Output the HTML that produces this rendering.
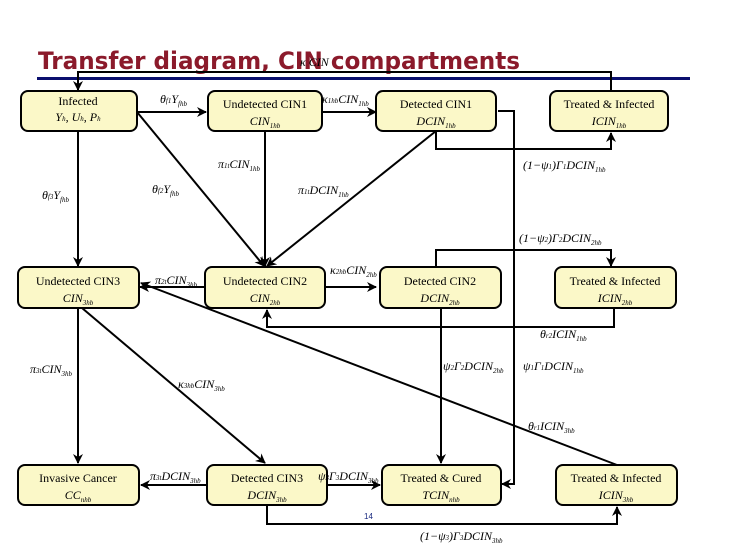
<!DOCTYPE html>
<html><head><meta charset="utf-8"><style>
html,body{margin:0;padding:0;background:#fff;}
svg{display:block;}
.t{font-family:"Liberation Serif",serif;font-size:12px;fill:#000;}
.m{font-family:"Liberation Serif",serif;font-style:italic;font-size:12px;fill:#000;}
.s{font-size:7px;}
</style></head><body>
<svg width="730" height="547" viewBox="0 0 730 547" xmlns="http://www.w3.org/2000/svg">
<defs>
<marker id="a" markerWidth="10" markerHeight="10" refX="9" refY="5" orient="auto" markerUnits="userSpaceOnUse">
<path d="M0,0 L10,5 L0,10 L3,5 Z" fill="#000"/></marker>
</defs>
<text x="38" y="69" font-family="'DejaVu Sans','Liberation Sans',sans-serif" font-weight="bold" font-size="24" fill="#8b1a2b" textLength="482" lengthAdjust="spacingAndGlyphs">Transfer diagram, CIN compartments</text>
<rect x="37" y="77" width="653" height="3" fill="#0a0f6e"/>

<g stroke="#000" stroke-width="2" fill="none">
<polyline points="611,91 611,72 78,72 78,90" marker-end="url(#a)"/>
<line x1="137" y1="112" x2="206" y2="112" marker-end="url(#a)"/>
<line x1="137" y1="112" x2="264" y2="266" marker-end="url(#a)"/>
<line x1="78" y1="131" x2="78" y2="266" marker-end="url(#a)"/>
<line x1="322" y1="112" x2="376" y2="112" marker-end="url(#a)"/>
<line x1="265" y1="131" x2="265" y2="266" marker-end="url(#a)"/>
<line x1="436" y1="131" x2="267" y2="266" marker-end="url(#a)"/>
<polyline points="498,111 514,111 514,484 502,484" marker-end="url(#a)"/>
<polyline points="436,131 436,149 611,149 611,133" marker-end="url(#a)"/>
<polyline points="436,267 436,250 611,250 611,266" marker-end="url(#a)"/>
<line x1="205" y1="287" x2="140" y2="287" marker-end="url(#a)"/>
<line x1="325" y1="287" x2="376" y2="287" marker-end="url(#a)"/>
<polyline points="614,308 614,327 267,327 267,310" marker-end="url(#a)"/>
<line x1="441" y1="308" x2="441" y2="463" marker-end="url(#a)"/>
<line x1="617" y1="465" x2="141" y2="283" marker-end="url(#a)"/>
<line x1="78" y1="308" x2="78" y2="463" marker-end="url(#a)"/>
<line x1="82" y1="308" x2="265" y2="463" marker-end="url(#a)"/>
<line x1="207" y1="485" x2="141" y2="485" marker-end="url(#a)"/>
<line x1="327" y1="485" x2="380" y2="485" marker-end="url(#a)"/>
<polyline points="267,505 267,524 617,524 617,507" marker-end="url(#a)"/>
</g>

<g fill="#fbf8c8" stroke="#000" stroke-width="2">
<rect x="21" y="91" width="116" height="40" rx="7"/>
<rect x="208" y="91" width="114" height="40" rx="7"/>
<rect x="376" y="91" width="120" height="40" rx="7"/>
<rect x="550" y="91" width="118" height="40" rx="7"/>
<rect x="18" y="267" width="121" height="41" rx="7"/>
<rect x="205" y="267" width="120" height="41" rx="7"/>
<rect x="380" y="267" width="121" height="41" rx="7"/>
<rect x="555" y="267" width="121" height="41" rx="7"/>
<rect x="18" y="465" width="121" height="40" rx="7"/>
<rect x="207" y="465" width="120" height="40" rx="7"/>
<rect x="382" y="465" width="119" height="40" rx="7"/>
<rect x="556" y="465" width="121" height="40" rx="7"/>
</g>

<g class="t" text-anchor="middle">
<text x="78" y="105">Infected</text>
<text x="78" y="121" class="m">Y<tspan class="s">h</tspan>, U<tspan class="s">h</tspan>, P<tspan class="s">h</tspan></text>
<text x="265" y="108">Undetected CIN1</text>
<text x="265" y="125" class="m">CIN<tspan class="s" dy="3">1hb</tspan></text>
<text x="436" y="108">Detected CIN1</text>
<text x="436" y="125" class="m">DCIN<tspan class="s" dy="3">1hb</tspan></text>
<text x="609" y="108">Treated &amp; Infected</text>
<text x="609" y="125" class="m">ICIN<tspan class="s" dy="3">1hb</tspan></text>
<text x="78" y="285">Undetected CIN3</text>
<text x="78" y="302" class="m">CIN<tspan class="s" dy="3">3hb</tspan></text>
<text x="265" y="285">Undetected CIN2</text>
<text x="265" y="302" class="m">CIN<tspan class="s" dy="3">2hb</tspan></text>
<text x="440" y="285">Detected CIN2</text>
<text x="440" y="302" class="m">DCIN<tspan class="s" dy="3">2hb</tspan></text>
<text x="615" y="285">Treated &amp; Infected</text>
<text x="615" y="302" class="m">ICIN<tspan class="s" dy="3">2hb</tspan></text>
<text x="78" y="482">Invasive Cancer</text>
<text x="78" y="499" class="m">CC<tspan class="s" dy="3">nhb</tspan></text>
<text x="267" y="482">Detected CIN3</text>
<text x="267" y="499" class="m">DCIN<tspan class="s" dy="3">3hb</tspan></text>
<text x="441" y="482">Treated &amp; Cured</text>
<text x="441" y="499" class="m">TCIN<tspan class="s" dy="3">nhb</tspan></text>
<text x="616" y="482">Treated &amp; Infected</text>
<text x="616" y="499" class="m">ICIN<tspan class="s" dy="3">3hb</tspan></text>
</g>

<g class="m">
<text x="300" y="66">κ CIN</text>
<text x="160" y="103">θ<tspan class="s">f1</tspan>Y<tspan class="s" dy="3">fhb</tspan></text>
<text x="322" y="103">κ<tspan class="s">1hb</tspan>CIN<tspan class="s" dy="3">1hb</tspan></text>
<text x="218" y="168">π<tspan class="s">1t</tspan>CIN<tspan class="s" dy="3">1hb</tspan></text>
<text x="42" y="199">θ<tspan class="s">f3</tspan>Y<tspan class="s" dy="3">fhb</tspan></text>
<text x="152" y="193">θ<tspan class="s">f2</tspan>Y<tspan class="s" dy="3">fhb</tspan></text>
<text x="298" y="194">π<tspan class="s">1t</tspan>DCIN<tspan class="s" dy="3">1hb</tspan></text>
<text x="523" y="169">(1−ψ<tspan class="s">1</tspan>)Γ<tspan class="s">1</tspan>DCIN<tspan class="s" dy="3">1hb</tspan></text>
<text x="519" y="242">(1−ψ<tspan class="s">2</tspan>)Γ<tspan class="s">2</tspan>DCIN<tspan class="s" dy="3">2hb</tspan></text>
<text x="155" y="284">π<tspan class="s">2t</tspan>CIN<tspan class="s" dy="3">3hb</tspan></text>
<text x="330" y="274">κ<tspan class="s">2hb</tspan>CIN<tspan class="s" dy="3">2hb</tspan></text>
<text x="540" y="338">θ<tspan class="s">r2</tspan>ICIN<tspan class="s" dy="3">1hb</tspan></text>
<text x="443" y="370">ψ<tspan class="s">2</tspan>Γ<tspan class="s">2</tspan>DCIN<tspan class="s" dy="3">2hb</tspan></text>
<text x="523" y="370">ψ<tspan class="s">1</tspan>Γ<tspan class="s">1</tspan>DCIN<tspan class="s" dy="3">1hb</tspan></text>
<text x="30" y="373">π<tspan class="s">3t</tspan>CIN<tspan class="s" dy="3">3hb</tspan></text>
<text x="178" y="388">κ<tspan class="s">3hb</tspan>CIN<tspan class="s" dy="3">3hb</tspan></text>
<text x="528" y="430">θ<tspan class="s">r1</tspan>ICIN<tspan class="s" dy="3">3hb</tspan></text>
<text x="150" y="480">π<tspan class="s">3t</tspan>DCIN<tspan class="s" dy="3">3hb</tspan></text>
<text x="318" y="480">ψ<tspan class="s">3</tspan>Γ<tspan class="s">3</tspan>DCIN<tspan class="s" dy="3">3hb</tspan></text>
<text x="420" y="540">(1−ψ<tspan class="s">3</tspan>)Γ<tspan class="s">3</tspan>DCIN<tspan class="s" dy="3">3hb</tspan></text>
</g>
<text x="364" y="519" font-family="'Liberation Sans',sans-serif" font-size="8" fill="#1a2a80">14</text>
</svg>
</body></html>
